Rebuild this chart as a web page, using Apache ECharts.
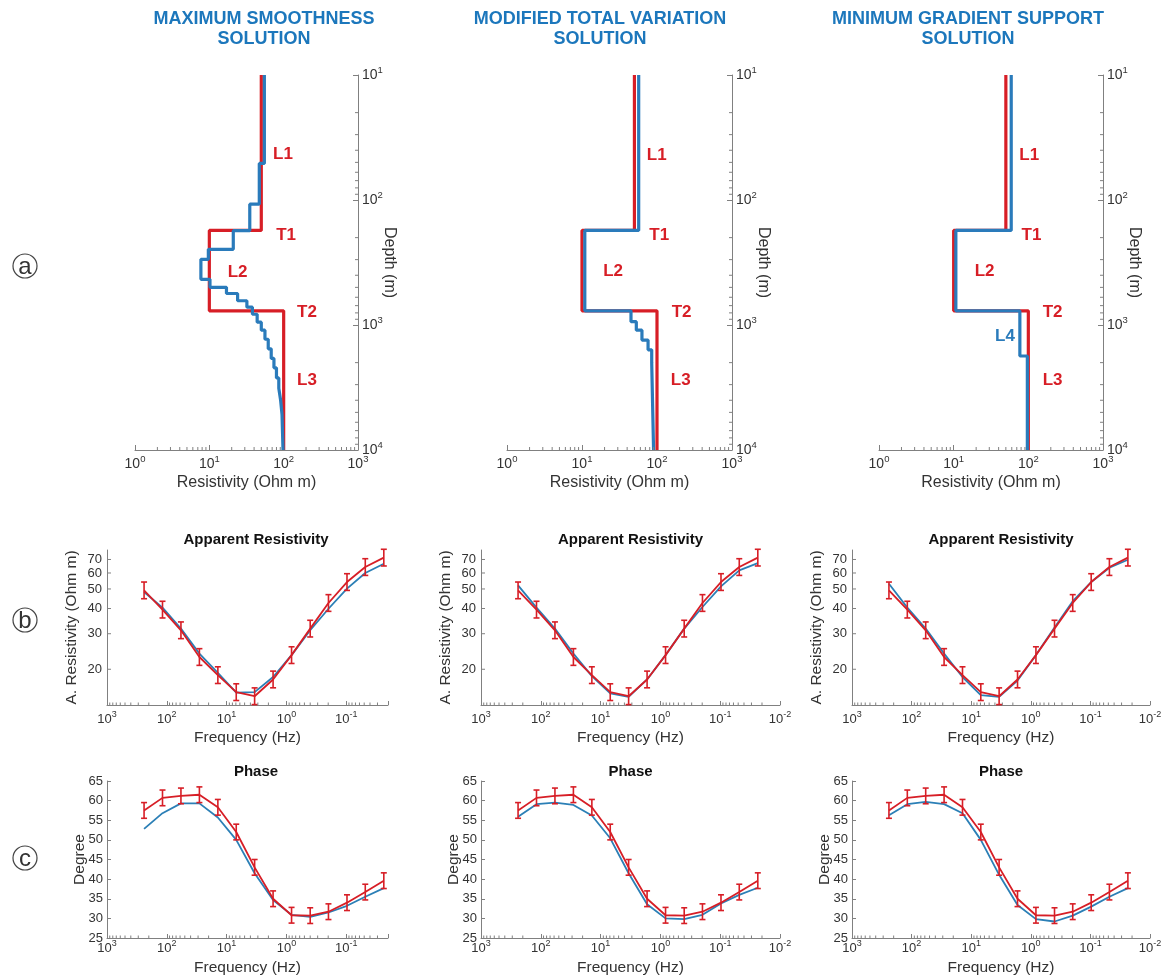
<!DOCTYPE html>
<html><head><meta charset="utf-8">
<script src="https://cdn.jsdelivr.net/npm/echarts@6/dist/echarts.min.js"></script>
<style>html,body{margin:0;padding:0;background:#fff}#c{width:1171px;height:978px}</style>
</head><body><div id="c"></div>
<script>
// ---------------- data ----------------
const panelTitles1 = ['MAXIMUM SMOOTHNESS', 'MODIFIED TOTAL VARIATION', 'MINIMUM GRADIENT SUPPORT'];
const panelTitles2 = ['SOLUTION', 'SOLUTION', 'SOLUTION'];
const panelLetters = ['a', 'b', 'c'];

// true (red) layered model: layer boundaries (m) and resistivities (Ohm m)
const trueDepth = [10, 175, 770, 10000];
const trueRes   = [50, 10, 100];
// maximum smoothness inversion
const msDepth = [10, 51, 108, 176, 248, 298, 431, 500, 560, 640, 720, 820, 950, 1100, 1300, 1550, 1850, 2200, 2650, 3200, 4000, 5200, 10000];
const msRes   = [55, 47, 35, 21, 9.7, 7.7, 10.2, 17, 24, 32, 38, 44, 50, 56, 62, 68, 74, 80, 86, 91, 95, 98];
// modified total variation inversion
const mtvDepth = [10, 175, 770, 940, 1100, 1320, 1580, 2000, 10000];
const mtvRes   = [57, 10.9, 45, 53, 63, 76, 85, 90];
// minimum gradient support inversion
const mgsDepth = [10, 175, 770, 1770, 10000];
const mgsRes   = [59, 10.7, 77, 97];

// sounding data
const freq = [240, 118, 58, 28.5, 14, 6.9, 3.4, 1.67, 0.82, 0.40, 0.198, 0.097, 0.048, 0.0235];
const rhoObs = [49.2, 39.5, 31.2, 23.0, 18.7, 15.4, 14.7, 17.8, 23.5, 31.8, 42.6, 54.1, 64.2, 71.5];
const rhoErrFrac = 0.1;
const phaseObs = [57.5, 60.7, 61.2, 61.5, 58.3, 52.0, 43.0, 35.0, 30.8, 30.7, 31.7, 34.0, 36.7, 39.6];
const phaseErr = 2;
const rhoMS  = [48.3, 40.4, 31.8, 23.9, 19.2, 15.3, 15.4, 18.3, 23.5, 31.2, 39.9, 50.2, 60.0, 66.7];
const rhoMTV = [52.1, 40.4, 31.8, 23.9, 18.5, 15.2, 14.6, 17.8, 23.5, 31.8, 40.7, 51.5, 61.8, 67.2];
const rhoMGS = [53.1, 40.4, 31.8, 23.9, 18.3, 14.9, 14.6, 17.6, 23.5, 32.2, 43.5, 54.1, 63.7, 69.8];
const phaseMS  = [52.8, 56.8, 59.3, 59.3, 55.7, 50.0, 41.5, 34.7, 30.9, 30.4, 31.5, 33.2, 35.5, 37.7];
const phaseMTV = [55.9, 59.1, 59.5, 58.9, 56.2, 50.4, 41.5, 33.6, 30.0, 29.8, 30.9, 33.8, 36.0, 37.8];
const phaseMGS = [56.3, 59.1, 59.7, 59.1, 56.8, 50.0, 41.1, 33.4, 29.8, 29.2, 30.7, 33.0, 35.5, 37.7];

// tick labels
const rhoTickLabels = [20, 30, 40, 50, 60, 70];

// annotation texts with their anchor (resistivity, depth)
const annotText = [['L1', 'T1', 'L2', 'T2', 'L3'], ['L1', 'T1', 'L2', 'T2', 'L3'], ['L1', 'T1', 'L2', 'T2', 'L3', 'L4']];
const annotRes  = [[98, 108, 24, 206, 206], [99, 107, 26, 213, 207], [103, 110, 26, 211, 211, 48.6]];
const annotDep  = [[43, 190, 377, 790, 2754], [44, 190, 375, 790, 2754], [44, 190, 375, 790, 2754, 1240]];

// ---------------- style ----------------
const FONT = "'Liberation Sans', Arial, Helvetica, sans-serif";
const RED = '#d71e26';
const BLUE = '#2a7bbb';
const BLUE2 = '#2b7fb6';
const TITLE_BLUE = '#1c77bc';
const AX = '#808080';
const TXT = '#333333';

const invDepths = [msDepth, mtvDepth, mgsDepth];
const invRes = [msRes, mtvRes, mgsRes];
const rhoInv = [rhoMS, rhoMTV, rhoMGS];
const phaseInv = [phaseMS, phaseMTV, phaseMGS];
const fMin = [0.02, 0.01, 0.01];

const topG = [{left: 135, width: 223}, {left: 507, width: 225}, {left: 879, width: 224}];
const midG = [{left: 107, width: 281}, {left: 481, width: 299}, {left: 852, width: 298}];

function steps(depths, res) {
  const pts = [];
  for (let i = 0; i < res.length; i++) { pts.push([res[i], depths[i]]); pts.push([res[i], depths[i + 1]]); }
  return pts;
}
function decadeLabel(v) {
  const l = Math.log10(v), e = Math.round(l);
  if (Math.abs(l - e) > 1e-6) return '';
  return '{b|10}{s|' + e + '}';
}
function minorVals(lo, hi) {
  const out = [];
  for (let e = Math.floor(Math.log10(lo)) - 1; e < Math.ceil(Math.log10(hi)); e++) {
    for (let k = 2; k <= 9; k++) {
      const v = k * Math.pow(10, e);
      if (v > lo * 1.0001 && v < hi * 0.9999) out.push(v);
    }
  }
  return out;
}
const richTop = {
  b: {fontSize: 14, fontFamily: FONT, color: TXT, lineHeight: 20},
  s: {fontSize: 9.5, fontFamily: FONT, color: TXT, lineHeight: 10, verticalAlign: 'top'}
};
const richMid = {
  b: {fontSize: 13, fontFamily: FONT, color: TXT, lineHeight: 18},
  s: {fontSize: 9, fontFamily: FONT, color: TXT, lineHeight: 9, verticalAlign: 'top'}
};

function tickSeries(gi, o) {
  return {
    type: 'custom', xAxisIndex: gi, yAxisIndex: gi, silent: true, clip: false, z: 6, animation: false,
    data: [[o.xEdge, o.yEdge]],
    renderItem: function (params, api) {
      const ch = [];
      (o.xMinor || []).forEach(function (v) {
        const p = api.coord([v, o.yEdge]);
        ch.push({type: 'line', shape: {x1: p[0], y1: p[1], x2: p[0], y2: p[1] - o.minorLen}, style: {stroke: AX, lineWidth: 1}});
      });
      (o.yMinor || []).forEach(function (v) {
        const p = api.coord([o.xEdge, v]);
        ch.push({type: 'line', shape: {x1: p[0], y1: p[1], x2: p[0] + o.yDir * o.minorLen, y2: p[1]}, style: {stroke: AX, lineWidth: 1}});
      });
      (o.yMajor || []).forEach(function (v) {
        const p = api.coord([o.xEdge, v]);
        ch.push({type: 'line', shape: {x1: p[0], y1: p[1], x2: p[0] + o.yDir * 4, y2: p[1]}, style: {stroke: AX, lineWidth: 1}});
        ch.push({type: 'text', x: p[0] - 5, y: p[1], style: {text: String(v), font: '13px ' + FONT, fill: TXT,
          textAlign: 'right', textVerticalAlign: 'middle', align: 'right', verticalAlign: 'middle'}});
      });
      return {type: 'group', children: ch};
    }
  };
}
function errSeries(gi, xs, lo, hi) {
  return {
    type: 'custom', xAxisIndex: gi, yAxisIndex: gi, silent: true, z: 5, animation: false,
    data: xs.map(function (x, i) { return [x, lo[i], hi[i]]; }),
    encode: {x: 0, y: [1, 2]},
    renderItem: function (params, api) {
      const x = api.value(0);
      const a = api.coord([x, api.value(1)]);
      const b = api.coord([x, api.value(2)]);
      const w = 3, st = {stroke: RED, lineWidth: 1.6};
      return {type: 'group', children: [
        {type: 'line', shape: {x1: a[0], y1: a[1], x2: b[0], y2: b[1]}, style: st},
        {type: 'line', shape: {x1: a[0] - w, y1: a[1], x2: a[0] + w, y2: a[1]}, style: st},
        {type: 'line', shape: {x1: b[0] - w, y1: b[1], x2: b[0] + w, y2: b[1]}, style: st}
      ]};
    }
  };
}
function annotSeries(gi, texts, xs, ys) {
  return {
    type: 'custom', xAxisIndex: gi, yAxisIndex: gi, silent: true, clip: false, z: 8, animation: false,
    data: texts.map(function (t, k) { return [xs[k], ys[k]]; }),
    encode: {x: 0, y: 1},
    renderItem: function (params, api) {
      const p = api.coord([api.value(0), api.value(1)]);
      const t = texts[params.dataIndex];
      const col = t === 'L4' ? BLUE : RED;
      return {type: 'text', x: p[0], y: p[1], style: {text: t, font: 'bold 17px ' + FONT, fill: col,
        textAlign: 'center', textVerticalAlign: 'middle', align: 'center', verticalAlign: 'middle'}};
    }
  };
}

const grid = [], xAxis = [], yAxis = [], series = [], graphic = [];
const nameStyle = function (fs) { return {fontSize: fs, color: TXT, fontFamily: FONT}; };

// ---- top row ----
topG.forEach(function (g, i) {
  grid.push({left: g.left, width: g.width, top: 75, height: 375, outerBoundsMode: 'none', containLabel: false});
  xAxis.push({type: 'log', gridIndex: i, min: 1, max: 1000, position: 'bottom',
    axisLine: {show: true, onZero: false, lineStyle: {color: AX}},
    axisTick: {show: true, inside: true, length: 5, lineStyle: {color: AX}},
    axisLabel: {formatter: decadeLabel, rich: richTop, margin: 4},
    splitLine: {show: false},
    name: 'Resistivity (Ohm m)', nameLocation: 'middle', nameGap: 25, nameTextStyle: nameStyle(16)});
  yAxis.push({type: 'log', gridIndex: i, min: 10, max: 10000, inverse: true, position: 'right',
    axisLine: {show: true, onZero: false, lineStyle: {color: AX}},
    axisTick: {show: true, inside: true, length: 5, lineStyle: {color: AX}},
    axisLabel: {formatter: decadeLabel, rich: richTop, margin: 4},
    splitLine: {show: false},
    name: 'Depth (m)', nameLocation: 'middle', nameRotate: -90, nameGap: 23, nameMoveOverlap: false, nameTextStyle: nameStyle(16)});
  series.push({type: 'line', xAxisIndex: i, yAxisIndex: i, data: steps(trueDepth, trueRes), symbol: 'none',
    lineStyle: {color: RED, width: 3.2}, itemStyle: {color: RED}, z: 2, animation: false});
  series.push({type: 'line', xAxisIndex: i, yAxisIndex: i, data: steps(invDepths[i], invRes[i]), symbol: 'none',
    lineStyle: {color: BLUE, width: 3.2}, itemStyle: {color: BLUE}, z: 3, animation: false});
  series.push(annotSeries(i, annotText[i], annotRes[i], annotDep[i]));
  series.push(tickSeries(i, {xEdge: 1000, yEdge: 10000, minorLen: 3, yDir: -1,
    xMinor: minorVals(1, 1000), yMinor: minorVals(10, 10000)}));
});

// ---- middle row: apparent resistivity ----
midG.forEach(function (g, i) {
  const gi = 3 + i;
  grid.push({left: g.left, width: g.width, top: 550, height: 155, outerBoundsMode: 'none', containLabel: false});
  xAxis.push({type: 'log', gridIndex: gi, min: fMin[i], max: 1000, inverse: true,
    axisLine: {show: true, onZero: false, lineStyle: {color: AX}},
    axisTick: {show: true, inside: true, length: 4, lineStyle: {color: AX}},
    axisLabel: {formatter: decadeLabel, rich: richMid, margin: 5},
    splitLine: {show: false},
    name: 'Frequency (Hz)', nameLocation: 'middle', nameGap: 25, nameTextStyle: nameStyle(15.5)});
  yAxis.push({type: 'log', gridIndex: gi, min: 13.3, max: 78,
    axisLine: {show: true, onZero: false, lineStyle: {color: AX}},
    axisTick: {show: false}, axisLabel: {show: false}, splitLine: {show: false},
    name: 'A. Resistivity (Ohm m)', nameLocation: 'middle', nameRotate: 90, nameGap: 27, nameMoveOverlap: false, nameTextStyle: nameStyle(15.5)});
  series.push({type: 'line', xAxisIndex: gi, yAxisIndex: gi, data: freq.map(function (f, k) { return [f, rhoInv[i][k]]; }),
    symbol: 'none', lineStyle: {color: BLUE2, width: 1.8}, itemStyle: {color: BLUE2}, z: 3, animation: false});
  series.push({type: 'line', xAxisIndex: gi, yAxisIndex: gi, data: freq.map(function (f, k) { return [f, rhoObs[k]]; }),
    symbol: 'none', lineStyle: {color: RED, width: 1.8}, itemStyle: {color: RED}, z: 4, animation: false});
  series.push(errSeries(gi, freq, rhoObs.map(function (r) { return r / (1 + rhoErrFrac); }), rhoObs.map(function (r) { return r * (1 + rhoErrFrac); })));
  series.push(tickSeries(gi, {xEdge: 1000, yEdge: 13.3, minorLen: 2.5, yDir: 1,
    xMinor: minorVals(fMin[i], 1000), yMajor: rhoTickLabels}));
});

// ---- bottom row: phase ----
midG.forEach(function (g, i) {
  const gi = 6 + i;
  grid.push({left: g.left, width: g.width, top: 781, height: 157, outerBoundsMode: 'none', containLabel: false});
  xAxis.push({type: 'log', gridIndex: gi, min: fMin[i], max: 1000, inverse: true,
    axisLine: {show: true, onZero: false, lineStyle: {color: AX}},
    axisTick: {show: true, inside: true, length: 4, lineStyle: {color: AX}},
    axisLabel: {formatter: decadeLabel, rich: richMid, margin: 1},
    splitLine: {show: false},
    name: 'Frequency (Hz)', nameLocation: 'middle', nameGap: 22, nameTextStyle: nameStyle(15.5)});
  yAxis.push({type: 'value', gridIndex: gi, min: 25, max: 65, interval: 5,
    axisLine: {show: true, onZero: false, lineStyle: {color: AX}},
    axisTick: {show: true, inside: true, length: 4, lineStyle: {color: AX}},
    axisLabel: {fontSize: 13, color: TXT, fontFamily: FONT, margin: 4},
    splitLine: {show: false},
    name: 'Degree', nameLocation: 'middle', nameRotate: 90, nameGap: 19, nameMoveOverlap: false, nameTextStyle: nameStyle(15.5)});
  series.push({type: 'line', xAxisIndex: gi, yAxisIndex: gi, data: freq.map(function (f, k) { return [f, phaseInv[i][k]]; }),
    symbol: 'none', lineStyle: {color: BLUE2, width: 1.8}, itemStyle: {color: BLUE2}, z: 3, animation: false});
  series.push({type: 'line', xAxisIndex: gi, yAxisIndex: gi, data: freq.map(function (f, k) { return [f, phaseObs[k]]; }),
    symbol: 'none', lineStyle: {color: RED, width: 1.8}, itemStyle: {color: RED}, z: 4, animation: false});
  series.push(errSeries(gi, freq, phaseObs.map(function (p) { return p - phaseErr; }), phaseObs.map(function (p) { return p + phaseErr; })));
  series.push(tickSeries(gi, {xEdge: 1000, yEdge: 25, minorLen: 2.5, yDir: 1, xMinor: minorVals(fMin[i], 1000)}));
});

// ---- titles and panel letters ----
const titleX = [264, 600, 968];
titleX.forEach(function (x, i) {
  [[panelTitles1[i], 19], [panelTitles2[i], 39]].forEach(function (t) {
    graphic.push({type: 'text', x: x, y: t[1], silent: true,
      style: {text: t[0], font: 'bold 18px ' + FONT, fill: TITLE_BLUE, textAlign: 'center', textVerticalAlign: 'middle', align: 'center', verticalAlign: 'middle'}});
  });
});
midG.forEach(function (g, i) {
  const cx = i === 0 ? 256 : g.left + g.width / 2;
  graphic.push({type: 'text', x: cx, y: 540, silent: true,
    style: {text: 'Apparent Resistivity', font: 'bold 15px ' + FONT, fill: '#111', textAlign: 'center', textVerticalAlign: 'middle', align: 'center', verticalAlign: 'middle'}});
  graphic.push({type: 'text', x: cx, y: 772, silent: true,
    style: {text: 'Phase', font: 'bold 15px ' + FONT, fill: '#111', textAlign: 'center', textVerticalAlign: 'middle', align: 'center', verticalAlign: 'middle'}});
});
[266, 620, 858].forEach(function (cy, i) {
  graphic.push({type: 'circle', shape: {cx: 25, cy: cy, r: 12}, silent: true, style: {fill: 'none', stroke: '#444', lineWidth: 1.2}});
  graphic.push({type: 'text', x: 25, y: cy + 1, silent: true,
    style: {text: panelLetters[i], font: '24px ' + FONT, fill: '#333', textAlign: 'center', textVerticalAlign: 'middle', align: 'center', verticalAlign: 'middle'}});
});

const chart = echarts.init(document.getElementById('c'), null, {renderer: 'canvas', width: 1171, height: 978});
chart.setOption({
  backgroundColor: '#ffffff',
  animation: false,
  textStyle: {fontFamily: FONT},
  grid: grid, xAxis: xAxis, yAxis: yAxis, series: series, graphic: graphic
});
</script>
</body></html>
